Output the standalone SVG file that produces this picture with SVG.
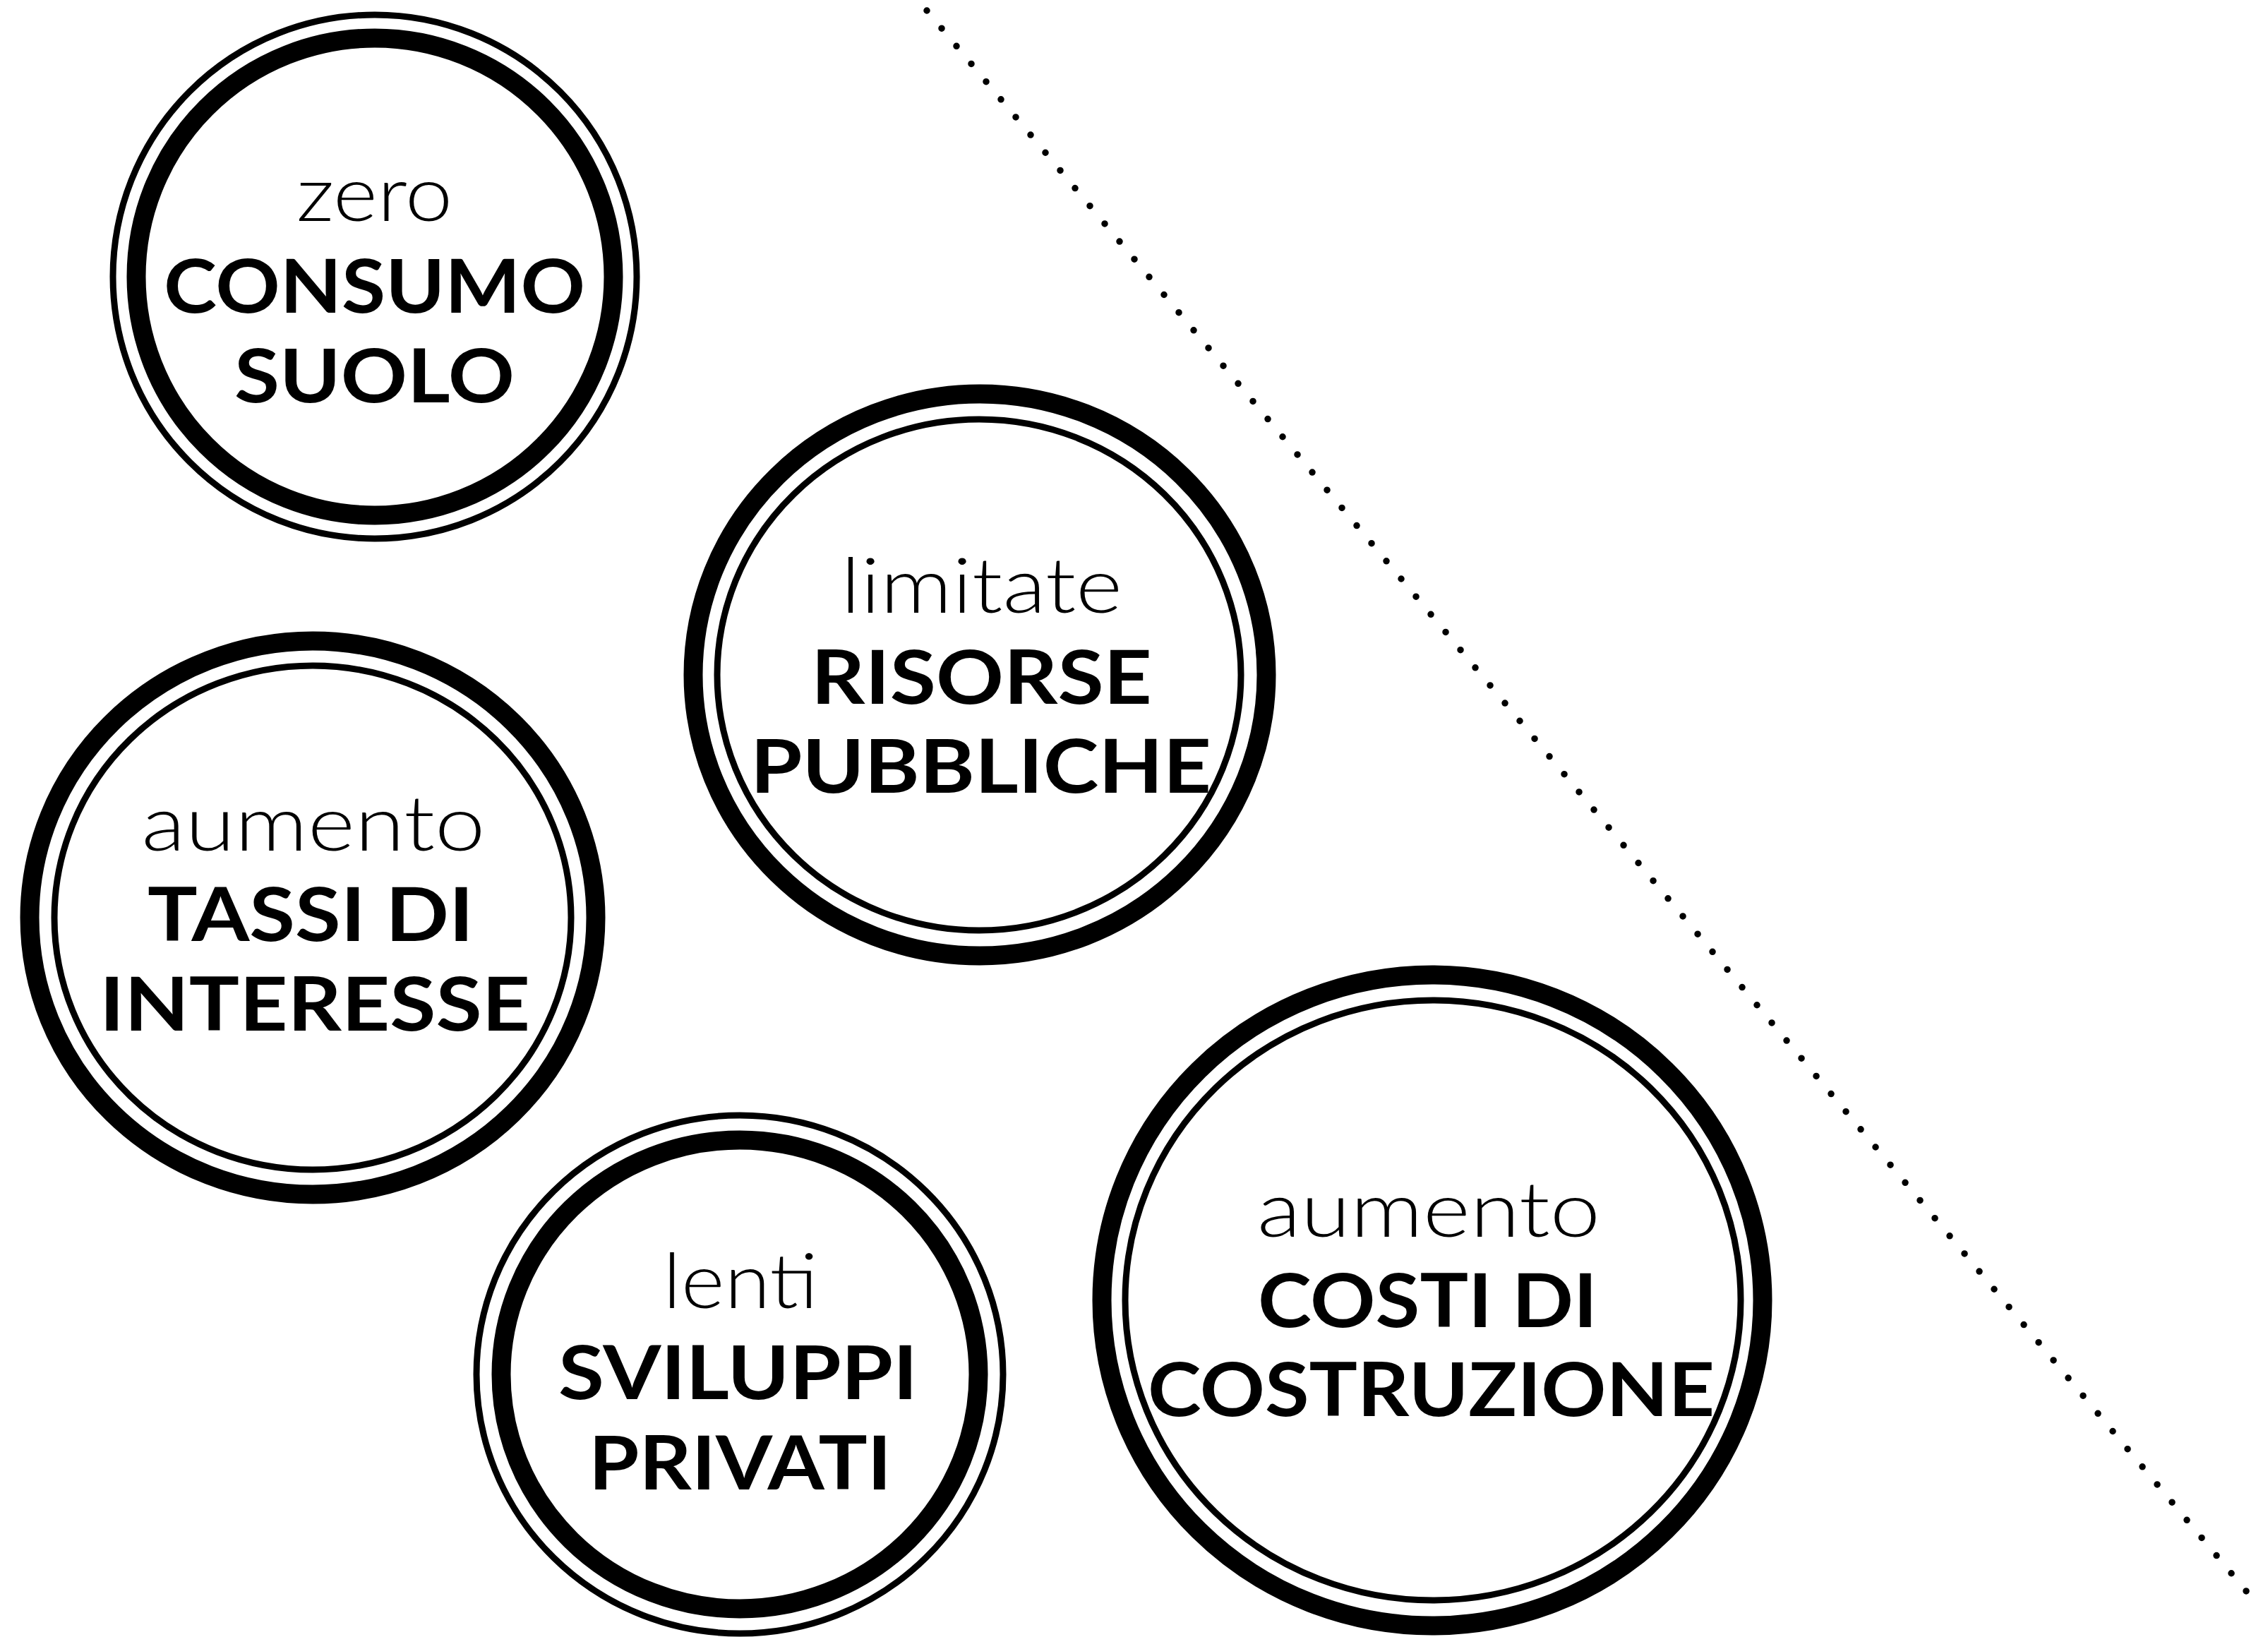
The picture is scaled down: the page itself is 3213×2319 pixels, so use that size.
<svg xmlns="http://www.w3.org/2000/svg" width="3213" height="2319" viewBox="0 0 3213 2319">
<style>
.thick{fill:none;stroke:#000;stroke-width:27}
.thin{fill:none;stroke:#000;stroke-width:9}
.lt{font-family:Lato,"Open Sans","Liberation Sans",sans-serif;font-weight:300;font-size:108px;fill:#000;text-anchor:middle}
.bd{font-family:Lato,"Open Sans","Liberation Sans",sans-serif;font-weight:700;font-size:105px;fill:#000;text-anchor:middle}
.dots{fill:none;stroke:#000;stroke-width:9.5;stroke-linecap:round;stroke-dasharray:0 32.77}
</style>
<rect width="3213" height="2319" fill="#fff"/>
<g id="divider">
<line class="dots" x1="1313" y1="15" x2="3203" y2="2279"/>
</g>
<g id="node-consumo-suolo">
<circle class="thin" cx="531" cy="392" r="371"/>
<circle class="thick" cx="531" cy="392" r="338"/>
<text class="lt" x="530.5" y="313" textLength="221" lengthAdjust="spacingAndGlyphs">zero</text>
<text class="bd" x="530.5" y="443" textLength="597" lengthAdjust="spacingAndGlyphs">CONSUMO</text>
<text class="bd" x="530.5" y="570" textLength="397" lengthAdjust="spacingAndGlyphs">SUOLO</text>
</g>
<g id="node-risorse-pubbliche">
<ellipse class="thick" cx="1388" cy="956" rx="406" ry="398"/>
<ellipse class="thin" cx="1387" cy="956" rx="371" ry="362"/>
<text class="lt" x="1390.5" y="868" textLength="399" lengthAdjust="spacingAndGlyphs">limitate</text>
<text class="bd" x="1390.5" y="997" textLength="483" lengthAdjust="spacingAndGlyphs">RISORSE</text>
<text class="bd" x="1389.5" y="1123" textLength="653" lengthAdjust="spacingAndGlyphs">PUBBLICHE</text>
</g>
<g id="node-tassi-interesse">
<ellipse class="thick" cx="443" cy="1300" rx="401" ry="392"/>
<ellipse class="thin" cx="443" cy="1300" rx="366" ry="357"/>
<text class="lt" x="444" y="1205" textLength="487" lengthAdjust="spacingAndGlyphs">aumento</text>
<text class="bd" x="440" y="1333" textLength="462" lengthAdjust="spacingAndGlyphs">TASSI DI</text>
<text class="bd" x="446" y="1460" textLength="610" lengthAdjust="spacingAndGlyphs">INTERESSE</text>
</g>
<g id="node-sviluppi-privati">
<ellipse class="thin" cx="1048" cy="1947" rx="373" ry="367"/>
<ellipse class="thick" cx="1048" cy="1947" rx="338" ry="332"/>
<text class="lt" x="1049" y="1853" textLength="220" lengthAdjust="spacingAndGlyphs">lenti</text>
<text class="bd" x="1045.5" y="1982" textLength="509" lengthAdjust="spacingAndGlyphs">SVILUPPI</text>
<text class="bd" x="1048.5" y="2110" textLength="429" lengthAdjust="spacingAndGlyphs">PRIVATI</text>
</g>
<g id="node-costi-costruzione">
<ellipse class="thick" cx="2029" cy="1842" rx="468" ry="461"/>
<ellipse class="thin" cx="2030" cy="1842" rx="436" ry="425"/>
<text class="lt" x="2024" y="1752" textLength="486" lengthAdjust="spacingAndGlyphs">aumento</text>
<text class="bd" x="2022.5" y="1880" textLength="481" lengthAdjust="spacingAndGlyphs">COSTI DI</text>
<text class="bd" x="2027.5" y="2006" textLength="803" lengthAdjust="spacingAndGlyphs">COSTRUZIONE</text>
</g>
</svg>
